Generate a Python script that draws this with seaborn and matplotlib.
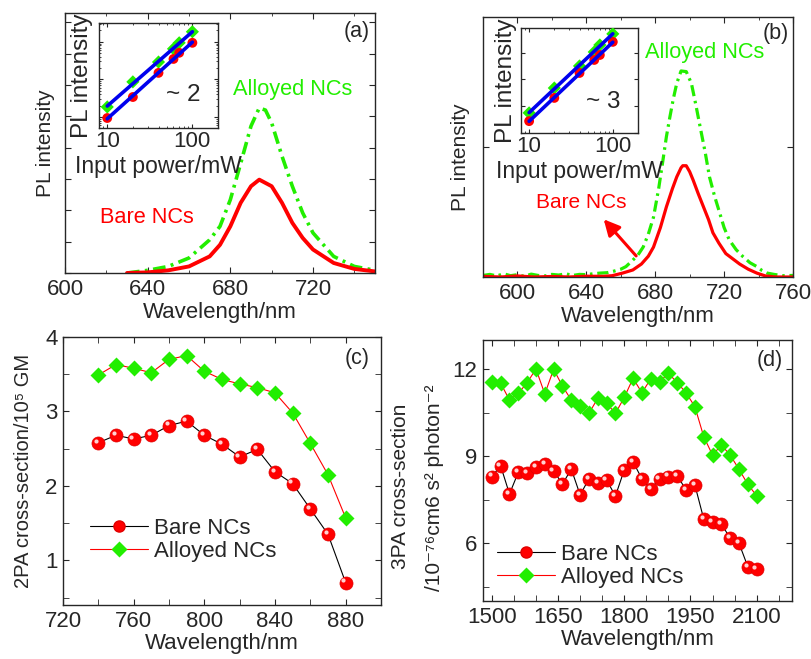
import numpy as np
import pandas as pd
import matplotlib
matplotlib.use("Agg")
import matplotlib.pyplot as plt
from matplotlib.ticker import MultipleLocator, NullFormatter, LogLocator
from matplotlib.transforms import offset_copy
from matplotlib.lines import Line2D
import seaborn as sns

# ---------------- data ----------------
# (a) PL spectra, 800 nm excitation (arb. units)
a_wl_bare = [630, 640, 650, 660, 670, 675, 680, 685, 690, 694, 700, 705, 710, 715, 720, 730, 740, 750]
a_pl_bare = [0.0, 0.02, 0.085, 0.21, 0.53, 0.9, 1.49, 2.24, 2.77, 2.98, 2.77, 2.24, 1.6, 1.12, 0.75, 0.32, 0.13, 0.05]
a_wl_alloy = [630, 640, 650, 660, 670, 675, 680, 685, 690, 694, 697, 700, 705, 710, 715, 720, 730, 740, 750]
a_pl_alloy = [0.0, 0.085, 0.21, 0.48, 1.06, 1.49, 2.34, 3.5, 4.69, 5.27, 5.2, 4.79, 3.73, 2.77, 1.92, 1.28, 0.53, 0.21, 0.085]

# (a) inset: PL intensity vs input power (log-log)
a_pow = [10, 20, 40, 60, 70, 100]
a_ins_bare = [0.94, 3.4, 14.9, 35, 51, 94]
a_ins_alloy = [1.85, 8.6, 29, 65, 94, 185]

# (b) PL spectra, 1300 nm excitation (arb. units)
b_wl_bare = [580, 590, 600, 610, 620, 630, 640, 650, 655, 661, 667, 672, 676, 679, 683, 686.5, 690, 692.5,
             695, 696, 698, 700, 702, 705, 708, 711, 713.5, 717, 721, 725, 729, 734, 739, 744, 750, 760]
b_pl_bare = [0.005, 0.0, 0.008, 0.0, 0.004, 0.0, 0.006, 0.005, 0.01, 0.03, 0.054, 0.1, 0.16, 0.23, 0.38, 0.54,
             0.68, 0.77, 0.84, 0.856, 0.856, 0.81, 0.746, 0.64, 0.54, 0.44, 0.34, 0.26, 0.18, 0.14, 0.1, 0.06,
             0.03, 0.008, 0.0, 0.0]
b_wl_alloy = [580, 584, 588, 592, 596, 600, 604, 608, 612, 616, 620, 624, 628, 632, 636, 640, 644, 648, 652,
              656, 660, 663, 667, 670, 673, 676, 679, 682, 684.5, 686.5, 688.5, 690.5, 692.5, 695, 698, 701,
              703.5, 706, 709, 711.5, 714.5, 717.5, 720, 723, 727, 731, 735, 739, 742, 745, 749, 754, 760]
b_pl_alloy = [0.012, 0.02, 0.008, 0.025, 0.01, 0.018, 0.005, 0.022, 0.012, 0.008, 0.02, 0.015, 0.025, 0.012,
              0.02, 0.018, 0.025, 0.03, 0.033, 0.045, 0.06, 0.08, 0.13, 0.17, 0.23, 0.33, 0.46, 0.68, 0.9,
              1.08, 1.23, 1.37, 1.49, 1.585, 1.58, 1.49, 1.33, 1.16, 0.96, 0.77, 0.62, 0.49, 0.38, 0.285,
              0.21, 0.156, 0.11, 0.08, 0.05, 0.03, 0.02, 0.01, 0.012]

# (b) inset
b_pow = [10, 20, 40, 60, 70, 100]
b_ins_bare = [0.27, 2.0, 17.2, 52.8, 81, 251]
b_ins_alloy = [0.55, 4.7, 31.4, 105, 192, 500]

# (c) 2PA cross-section (10^5 GM)
c_wl = [740, 750, 760, 770, 780, 790, 800, 810, 820, 830, 840, 850, 860, 870, 880]
c_bare = [2.58, 2.68, 2.63, 2.68, 2.81, 2.87, 2.68, 2.56, 2.39, 2.49, 2.19, 2.03, 1.69, 1.35, 0.70]
c_alloy = [3.49, 3.63, 3.58, 3.52, 3.70, 3.75, 3.54, 3.43, 3.37, 3.32, 3.25, 2.98, 2.57, 2.15, 1.57]

# (d) 3PA cross-section (10^-76 cm6 s2 photon-2)
d_wl = list(range(1500, 2101, 20))
d_bare = [8.29, 8.66, 7.69, 8.44, 8.40, 8.61, 8.71, 8.49, 8.03, 8.55, 7.66, 8.21, 8.06, 8.17, 7.62, 8.52,
          8.80, 8.21, 7.86, 8.21, 8.29, 8.32, 7.83, 8.00, 6.83, 6.71, 6.66, 6.16, 5.99, 5.18, 5.10]
d_alloy = [11.54, 11.51, 10.93, 11.16, 11.53, 12.0, 11.14, 11.99, 11.41, 10.93, 10.72, 10.47, 10.99, 10.82,
           10.47, 11.02, 11.68, 11.18, 11.66, 11.56, 11.85, 11.53, 11.18, 10.70, 9.67, 9.03, 9.38, 9.03,
           8.54, 8.02, 7.63]

RED = "#ff0000"
GREEN = "#22ee00"
BLUE = "#0000ee"
FS = 16
DASHDOT = (0, (3.5, 1.5, 0.8, 1.5))

sns.set_style("ticks")
plt.rcParams["font.family"] = ["Liberation Sans", "DejaVu Sans"]
plt.rcParams.update({
    "xtick.direction": "in", "ytick.direction": "in",
    "xtick.top": True, "ytick.right": True,
    "xtick.major.size": 4, "ytick.major.size": 4,
    "xtick.minor.size": 2.5, "ytick.minor.size": 2.5,
    "xtick.major.pad": 4, "ytick.major.pad": 4,
    "axes.linewidth": 1.0, "font.size": FS,
    "xtick.labelsize": FS, "ytick.labelsize": FS,
    "axes.labelsize": FS,
})

fig = plt.figure(figsize=(8.11, 6.59), dpi=100)
W, H = 811.0, 659.0


def px_axes(l, t, r, b):
    return fig.add_axes([l / W, 1 - b / H, (r - l) / W, (b - t) / H])


def spheres(ax, x, y, size=9.4):
    ax.plot(x, y, ls="none", marker="o", ms=size, mfc=RED, mec="#e00000", mew=0.5, zorder=4)
    hl = offset_copy(ax.transData, fig=fig, x=-2.2, y=2.2, units="dots")
    ax.plot(x, y, ls="none", marker="o", ms=size * 0.32, mfc="#ffd0d0", mec="none", transform=hl, zorder=5)


def inset(ax, pw, ybare, yalloy, ylim, label_pos, slope_txt):
    ax.set_xscale("log")
    ax.set_yscale("log")
    sns.scatterplot(x=pw, y=yalloy, ax=ax, marker="D", s=45, color=GREEN, edgecolor="none", zorder=3)
    sns.scatterplot(x=pw, y=ybare, ax=ax, marker="o", s=50, color=RED, edgecolor="none", zorder=3)
    for yy in (ybare, yalloy):
        k, b0 = np.polyfit(np.log10(pw), np.log10(yy), 1)
        xf = np.array([pw[0], pw[-1]])
        sns.lineplot(x=xf, y=10 ** (b0 + k * np.log10(xf)), ax=ax, color=BLUE, lw=2.6, zorder=4)
    ax.set_xlim(8, 200)
    ax.set_ylim(*ylim)
    ax.set_xticks([10, 100])
    ax.set_xticklabels(["10", "100"])
    ax.xaxis.set_minor_formatter(NullFormatter())
    ax.yaxis.set_major_formatter(NullFormatter())
    ax.yaxis.set_minor_formatter(NullFormatter())
    ax.yaxis.set_major_locator(LogLocator(base=10, numticks=10))
    ax.tick_params(which="major", length=3, pad=2)
    ax.tick_params(which="minor", length=1.5)
    ax.set_xlabel("Input power/mW", fontsize=16.5, labelpad=2)
    ax.set_ylabel("PL intensity", fontsize=17.5, labelpad=1)
    ax.text(*label_pos, slope_txt, transform=ax.transAxes, fontsize=17.5, ha="center", va="center")


# ---------------- (a) ----------------
axa = px_axes(65, 13, 375, 273)
sns.lineplot(x=a_wl_alloy, y=a_pl_alloy, ax=axa, color=GREEN, lw=2.6, linestyle=DASHDOT)
sns.lineplot(x=a_wl_bare, y=a_pl_bare, ax=axa, color=RED, lw=2.8)
axa.set_xlim(600, 750)
axa.set_ylim(0, 8.3)
axa.xaxis.set_major_locator(MultipleLocator(40))
axa.xaxis.set_minor_locator(MultipleLocator(20))
axa.yaxis.set_major_locator(MultipleLocator(1))
axa.yaxis.set_major_formatter(NullFormatter())
axa.set_xlabel("Wavelength/nm", labelpad=2)
axa.set_ylabel("PL intensity", fontsize=15)
axa.yaxis.set_label_coords(-0.032, 0.5)
axa.text(0.735, 0.704, "Alloyed NCs", color=GREEN, transform=axa.transAxes, ha="center", va="center", fontsize=15.7)
axa.text(0.265, 0.212, "Bare NCs", color=RED, transform=axa.transAxes, ha="center", va="center", fontsize=15.7)
axa.text(0.942, 0.927, "(a)", transform=axa.transAxes, ha="center", va="center", fontsize=15.5)

ia = px_axes(99, 23, 218, 128)
inset(ia, a_pow, a_ins_bare, a_ins_alloy, (0.51, 316), (0.706, 0.314), "~ 2")

# ---------------- (b) ----------------
axb = px_axes(483, 17, 793, 277)
sns.lineplot(x=b_wl_alloy, y=b_pl_alloy, ax=axb, color=GREEN, lw=2.3, linestyle=DASHDOT)
sns.lineplot(x=b_wl_bare, y=b_pl_bare, ax=axb, color=RED, lw=2.3)
axb.set_xlim(580, 760)
axb.set_ylim(0, 2)
axb.xaxis.set_major_locator(MultipleLocator(40))
axb.xaxis.set_minor_locator(MultipleLocator(20))
axb.set_yticks([1])
axb.yaxis.set_major_formatter(NullFormatter())
axb.set_xlabel("Wavelength/nm", labelpad=2)
axb.set_ylabel("PL intensity", fontsize=15)
axb.yaxis.set_label_coords(-0.042, 0.46)
axb.text(0.716, 0.862, "Alloyed NCs", color=GREEN, transform=axb.transAxes, ha="center", va="center", fontsize=15.7)
axb.text(0.316, 0.288, "Bare NCs", color=RED, transform=axb.transAxes, ha="center", va="center", fontsize=15)
axb.annotate("", xy=(649, 0.46), xytext=(670, 0.146),
             arrowprops=dict(arrowstyle="-|>,head_length=0.6,head_width=0.3", color=RED, lw=2.2))
axb.text(0.945, 0.935, "(b)", transform=axb.transAxes, ha="center", va="center", fontsize=15.5)

ib = px_axes(521, 28, 638, 133)
inset(ib, b_pow, b_ins_bare, b_ins_alloy, (0.097, 830), (0.70, 0.295), "~ 3")

# ---------------- (c) ----------------
axc = px_axes(63, 337, 381, 605)
sns.lineplot(x=c_wl, y=c_bare, ax=axc, color="black", lw=0.8)
sns.lineplot(x=c_wl, y=c_alloy, ax=axc, color=RED, lw=0.8)
spheres(axc, c_wl, c_bare)
axc.plot(c_wl, c_alloy, ls="none", marker="D", ms=8.6, mfc=GREEN, mec="none", zorder=4)
axc.set_xlim(720, 900)
axc.set_ylim(0.4, 4)
axc.xaxis.set_major_locator(MultipleLocator(40))
axc.xaxis.set_minor_locator(MultipleLocator(20))
axc.yaxis.set_major_locator(MultipleLocator(1))
axc.yaxis.set_minor_locator(MultipleLocator(0.5))
axc.tick_params(which="minor", length=4)
axc.set_xlabel("Wavelength/nm", labelpad=1)
axc.set_ylabel("2PA cross-section/10\u2075 GM", fontsize=14.5)
axc.yaxis.set_label_coords(-0.094, 0.5)
axc.text(0.925, 0.92, "(c)", transform=axc.transAxes, ha="center", va="center", fontsize=15.5)

# ---------------- (d) ----------------
axd = px_axes(483, 340, 792, 601)
sns.lineplot(x=d_wl, y=d_bare, ax=axd, color="black", lw=0.8)
sns.lineplot(x=d_wl, y=d_alloy, ax=axd, color=RED, lw=0.8)
spheres(axd, d_wl, d_bare)
axd.plot(d_wl, d_alloy, ls="none", marker="D", ms=8.6, mfc=GREEN, mec="none", zorder=4)
axd.set_xlim(1480, 2180)
axd.set_ylim(4, 13)
axd.xaxis.set_major_locator(MultipleLocator(150))
axd.xaxis.set_minor_locator(MultipleLocator(50))
axd.yaxis.set_major_locator(MultipleLocator(3))
axd.yaxis.set_minor_locator(MultipleLocator(1.5))
axd.tick_params(which="minor", length=4)
axd.set_xlabel("Wavelength/nm", labelpad=1)
fig.text(401 / W, 1 - 486 / H, "3PA cross-section", rotation=90, ha="center", va="center", fontsize=15)
fig.text(434 / W, 1 - 488 / H, "/10\u207b\u2077\u2076cm6 s\u00b2 photon\u207b\u00b2", rotation=90,
         ha="center", va="center", fontsize=15)
axd.text(0.929, 0.923, "(d)", transform=axd.transAxes, ha="center", va="center", fontsize=15.5)

# legends for (c) and (d)
for ax, anchor in ((axc, (0.085, 0.16)), (axd, (0.045, 0.05))):
    h1 = Line2D([], [], color="black", lw=0.8, marker="o", ms=8, mfc=RED, mec="#e00000")
    h2 = Line2D([], [], color=RED, lw=0.8, marker="D", ms=8, mfc=GREEN, mec="none")
    ax.legend([h1, h2], ["Bare NCs", "Alloyed NCs"], loc="lower left", bbox_to_anchor=anchor,
              frameon=False, handlelength=2.6, handletextpad=0.3, labelspacing=0.1,
              borderpad=0, borderaxespad=0, fontsize=16)

fig.savefig("out.png", dpi=100)
